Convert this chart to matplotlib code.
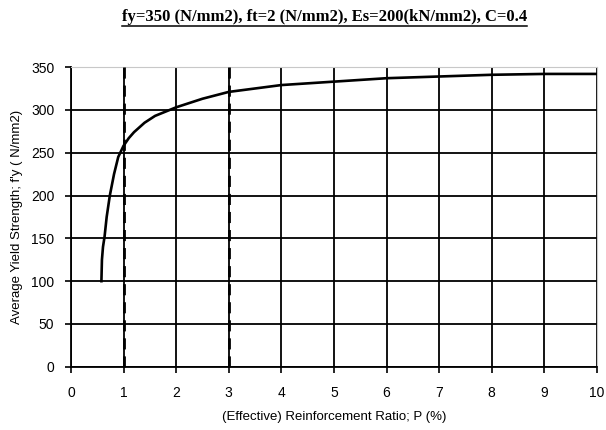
import matplotlib.pyplot as plt
from matplotlib.lines import Line2D

# Average yield strength vs effective reinforcement ratio
ratio = [0.58, 0.59, 0.61, 0.64, 0.68, 0.74, 0.82, 0.90, 1.0, 1.1, 1.2, 1.4,
         1.6, 1.8, 2.0, 2.5, 3.0, 3.5, 4.0, 5.0, 6.0, 7.0, 8.0, 9.0, 10.0]
strength = [100, 125, 140, 152, 175, 200, 225, 245, 258, 267, 274, 285,
            293, 298, 303, 313, 321, 325, 329, 333, 337, 339, 341, 342, 342]

# Limits marked with dashed lines
limit_ratios = [1, 3]

x_ticks = list(range(0, 11))
y_ticks = list(range(0, 351, 50))

title = "fy=350 (N/mm2), ft=2 (N/mm2), Es=200(kN/mm2), C=0.4"
x_label = "(Effective) Reinforcement Ratio; P (%)"
y_label = "Average Yield Strength; f'y ( N/mm2)"

plt.rcParams['font.family'] = ['Liberation Sans', 'DejaVu Sans']

fig = plt.figure(figsize=(6.06, 4.30), dpi=100)
ax = fig.add_axes([0.117, 0.147, 0.868, 0.697])

ax.set_xlim(0, 10)
ax.set_ylim(0, 350)
ax.set_xticks(x_ticks)
ax.set_yticks(y_ticks)
ax.grid(True, color='black', linewidth=1.3)
ax.set_axisbelow(True)

ax.plot(ratio, strength, color='black', linewidth=1.9, zorder=3)

for xr in limit_ratios:
    ax.plot([xr, xr], [0, 354], color='black', linewidth=2.0,
            linestyle=(0, (4, 2.5)), clip_on=False, zorder=4)

ax.spines['top'].set_color('#c8c8c8')
ax.spines['right'].set_color('#c8c8c8')
ax.spines['left'].set_linewidth(1.3)
ax.spines['bottom'].set_linewidth(1.3)
ax.tick_params(direction='out', length=4, width=1.2, labelsize=10, pad=10,
               colors='black')
ax.tick_params(axis='y', pad=8)

ax.set_xlabel(x_label, fontsize=9.5, labelpad=8)
ax.set_ylabel(y_label, fontsize=9.5, labelpad=6)

# Underlined bold serif title
t = fig.text(0.536, 0.951, title, ha='center', va='baseline', fontsize=12,
             fontweight='bold', family=['Liberation Serif', 'DejaVu Serif'])
fig.canvas.draw()
bb = t.get_window_extent().transformed(fig.transFigure.inverted())
fig.add_artist(Line2D([bb.x0, bb.x1], [bb.y0 - 0.003, bb.y0 - 0.003],
                      color='black', linewidth=1.1))

fig.savefig('out.png', dpi=100)
